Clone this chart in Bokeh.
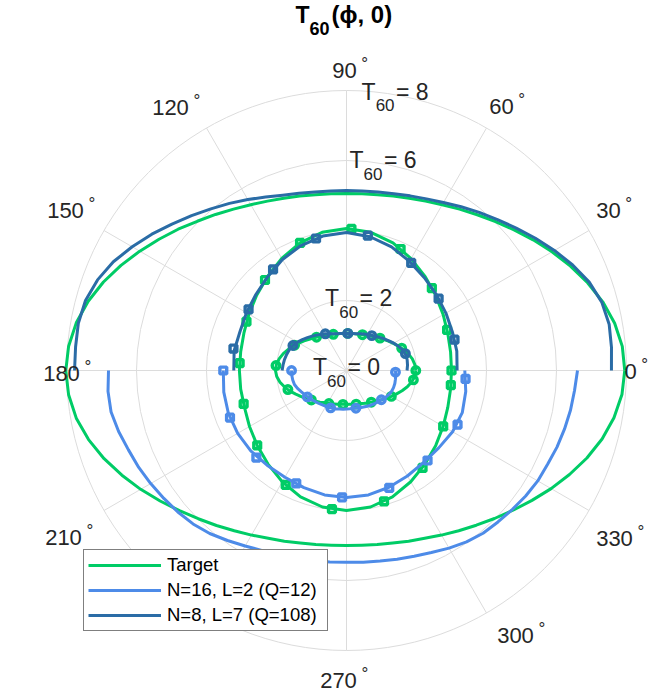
import numpy as np
from bokeh.plotting import figure
from bokeh.models import Range1d, Legend, LegendItem
from bokeh.embed import file_html
from bokeh.resources import INLINE
from bokeh.core.properties import value

# ---------------- data (T60) ----------------
phi_full5 = list(range(0, 361, 5))      # Target, 5 degree steps
phi_upper5 = list(range(0, 181, 5))     # N=8 curves: upper half
phi_lower5 = list(range(180, 361, 5))   # N=16 curves: lower half
phi_full10 = list(range(0, 361, 10))
phi_upper10 = list(range(0, 181, 10))
phi_lower10 = list(range(180, 361, 10))

target_outer = [7.95, 7.91, 7.78, 7.58, 7.33, 7.06, 6.78, 6.51, 6.25, 6.02,
                5.81, 5.63, 5.47, 5.34, 5.24, 5.16, 5.10, 5.07, 5.06,
                5.07, 5.10, 5.16, 5.24, 5.34, 5.47, 5.63, 5.82, 6.03,
                6.28, 6.54, 6.82, 7.11, 7.39, 7.64, 7.84, 7.97, 8.02,
                7.97, 7.84, 7.63, 7.37, 7.08, 6.79, 6.50, 6.23, 5.99,
                5.78, 5.59, 5.43, 5.29, 5.19, 5.10, 5.05, 5.01, 5.00,
                5.01, 5.05, 5.10, 5.19, 5.29, 5.43, 5.59, 5.77, 5.98,
                6.21, 6.47, 6.75, 7.03, 7.31, 7.56, 7.76, 7.90, 7.95]
n8_outer = [7.57, 7.60, 7.62, 7.55, 7.38, 7.13, 6.86, 6.59, 6.33, 6.10,
            5.90, 5.71, 5.54, 5.41, 5.31, 5.23, 5.18, 5.15, 5.14,
            5.15, 5.18, 5.24, 5.33, 5.47, 5.64, 5.83, 6.03, 6.26,
            6.51, 6.79, 7.07, 7.35, 7.57, 7.72, 7.78, 7.77, 7.77]
n16_outer = [6.80, 6.84, 6.83, 6.74, 6.63, 6.55, 6.46, 6.37, 6.29, 6.20,
             6.08, 5.93, 5.79, 5.68, 5.60, 5.55, 5.51, 5.49, 5.48,
             5.50, 5.53, 5.58, 5.65, 5.74, 5.86, 5.98, 6.07, 6.12,
             6.18, 6.25, 6.31, 6.34, 6.40, 6.45, 6.50, 6.54, 6.60]

target_mid = [3.00, 3.02, 3.08, 3.19, 3.33, 3.50, 3.69, 3.88, 4.01, 4.06,
              4.01, 3.88, 3.70, 3.51, 3.35, 3.22, 3.12, 3.07, 3.06, 3.07,
              3.10, 3.20, 3.33, 3.49, 3.67, 3.84, 3.96, 4.00, 3.96, 3.84,
              3.67, 3.49, 3.33, 3.19, 3.08, 3.02, 3.00]
n8_mid = [3.16, 3.20, 3.22, 3.28, 3.36, 3.46, 3.60, 3.76, 3.88, 3.94,
          3.90, 3.80, 3.66, 3.50, 3.38, 3.30, 3.24, 3.26, 3.22]
n16_mid = [3.52, 3.56, 3.59, 3.59, 3.57, 3.53, 3.52, 3.56, 3.61, 3.63,
           3.61, 3.55, 3.48, 3.43, 3.44, 3.50, 3.52, 3.46, 3.38]

target_in = [1.98, 1.96, 1.91, 1.83, 1.74, 1.64, 1.55, 1.46, 1.38, 1.31,
             1.25, 1.20, 1.16, 1.13, 1.10, 1.08, 1.07, 1.06, 1.06,
             1.06, 1.07, 1.08, 1.10, 1.13, 1.17, 1.21, 1.26, 1.32,
             1.39, 1.48, 1.57, 1.67, 1.77, 1.87, 1.95, 2.01, 2.03,
             2.00, 1.93, 1.83, 1.72, 1.60, 1.49, 1.40, 1.31, 1.24,
             1.18, 1.12, 1.08, 1.05, 1.02, 1.00, 0.98, 0.97, 0.97,
             0.97, 0.98, 1.00, 1.02, 1.04, 1.08, 1.12, 1.17, 1.23,
             1.30, 1.39, 1.48, 1.58, 1.69, 1.80, 1.89, 1.96, 1.98]
n8_in = [1.73, 1.75, 1.76, 1.75, 1.71, 1.64, 1.56, 1.48, 1.41, 1.34,
         1.28, 1.23, 1.19, 1.15, 1.12, 1.09, 1.07, 1.06, 1.06,
         1.06, 1.07, 1.09, 1.12, 1.16, 1.21, 1.26, 1.32, 1.39,
         1.46, 1.54, 1.62, 1.69, 1.74, 1.77, 1.80, 1.82, 1.84]
n16_in = [1.57, 1.57, 1.56, 1.54, 1.49, 1.43, 1.38, 1.34, 1.30, 1.26,
          1.23, 1.20, 1.18, 1.16, 1.15, 1.14, 1.12, 1.11, 1.10,
          1.10, 1.10, 1.11, 1.13, 1.15, 1.18, 1.21, 1.24, 1.27,
          1.30, 1.35, 1.39, 1.42, 1.43, 1.43, 1.42, 1.41, 1.40]

# markers (angle in degrees, T60)
target_mk_phi = [0, 22, 44, 66, 88, 110, 132, 154, 176, 198, 220, 242, 264, 286, 308, 330, 352]
target_mid_mk = [3.00, 3.10, 3.39, 3.80, 4.05, 3.88, 3.48, 3.18, 3.06, 3.09, 3.33, 3.70, 3.98, 3.89, 3.53, 3.19, 3.01]
target_in_mk = [1.98, 1.70, 1.33, 1.12, 1.06, 1.10, 1.28, 1.65, 2.02, 1.76, 1.31, 1.07, 0.975, 1.00, 1.15, 1.48, 1.93]
n8_mid_mk_phi = [16, 38, 59, 81, 103, 126, 148, 169]
n8_mid_mk = [3.21, 3.34, 3.59, 3.90, 3.87, 3.57, 3.30, 3.29]
n16_mid_mk_phi = [180, 202, 224, 246, 268, 290, 312, 334, 356]
n16_mid_mk = [3.52, 3.59, 3.58, 3.53, 3.63, 3.57, 3.46, 3.53, 3.41]
n8_in_mk_phi = [16, 54, 88, 120, 155]
n8_in_mk = [1.75, 1.23, 1.06, 1.21, 1.69]
n16_in_mk_phi = [180, 214, 247, 284, 320, 358]
n16_in_mk = [1.57, 1.35, 1.16, 1.11, 1.30, 1.40]

ring_values = [2, 4, 6, 8]
ring_labels = [0, 2, 6, 8]
spoke_angles = list(range(0, 360, 30))
angle_labels = [0, 30, 60, 90, 120, 150, 180, 210, 270, 300, 330]
legend_labels = ["Target", "N=16, L=2 (Q=12)", "N=8, L=7 (Q=108)"]

# ---------------- style / layout ----------------
GREEN = "#00CC66"
LBLUE = "#4D8BE8"
DBLUE = "#2A6CA6"
GRID = "#DCDCDC"
TXT = "#262626"
FONT = "Liberation Sans"

S = 35.0                 # px per T60 unit
CX, CY = 346.0, 370.0    # position of the pole in the picture
W, H = 656, 698

p = figure(width=W, height=H,
           x_range=Range1d(-CX / S, (W - CX) / S),
           y_range=Range1d((CY - H) / S, CY / S),
           output_backend="svg", toolbar_location=None,
           x_axis_type=None, y_axis_type=None, min_border=0)
p.outline_line_color = None
p.background_fill_color = "white"
p.border_fill_color = "white"


def pol(phi, r):
    t = np.deg2rad(np.asarray(phi, dtype=float))
    r = np.asarray(r, dtype=float)
    return r * np.cos(t), r * np.sin(t)


# grid
rmax = ring_values[-1]
p.circle(x=[0] * len(ring_values), y=[0] * len(ring_values), radius=ring_values,
         fill_color=None, line_color=GRID, line_width=1)
sx, sy = pol(spoke_angles, [rmax] * len(spoke_angles))
p.segment(x0=0, y0=0, x1=sx, y1=sy, line_color=GRID, line_width=1)

LW = 3


def curve(phi, r, color):
    x, y = pol(phi, r)
    return p.line(x, y, line_color=color, line_width=LW, line_join="round")


def marks(phi, r, color, marker):
    x, y = pol(phi, r)
    size = 6.8 if marker == "square" else 7.5
    p.scatter(x, y, marker=marker, size=size, line_color=color, line_width=3.4,
              fill_color=None)


r_t = curve(phi_full5, target_outer, GREEN)
curve(phi_full10, target_mid, GREEN)
curve(phi_full5, target_in, GREEN)
marks(target_mk_phi, target_mid_mk, GREEN, "square")
marks(target_mk_phi, target_in_mk, GREEN, "circle")

r_16 = curve(phi_lower5, n16_outer, LBLUE)
curve(phi_lower10, n16_mid, LBLUE)
curve(phi_lower5, n16_in, LBLUE)
marks(n16_mid_mk_phi, n16_mid_mk, LBLUE, "square")
marks(n16_in_mk_phi, n16_in_mk, LBLUE, "circle")

r_8 = curve(phi_upper5, n8_outer, DBLUE)
curve(phi_upper10, n8_mid, DBLUE)
curve(phi_upper5, n8_in, DBLUE)
marks(n8_mid_mk_phi, n8_mid_mk, DBLUE, "square")
marks(n8_in_mk_phi, n8_in_mk, DBLUE, "circle")

# ---------------- texts ----------------
ADV = {'T': 0.611, '=': 0.584, ' ': 0.278, '(': 0.333, ')': 0.333, ',': 0.278, '°': 0.4}


def tw(s, size):
    return sum(ADV.get(c, 0.556) for c in s) * size


def put(px, py, s, size, bold=False, color=TXT):
    # py is the wanted baseline; compensate the renderer's baseline offset
    py = py - 0.38 * size
    p.text(x=[(px - CX) / S], y=[(CY - py) / S], text=[s],
           text_font=value(FONT), text_font_size=f"{size}px",
           text_font_style="bold" if bold else "normal",
           text_color=color, text_align="left", text_baseline="alphabetic")


# angle labels: centre of the whole label (px offsets from pole, y up)
label_pos = {0: (289, -1), 30: (267, 160), 60: (160, 264), 90: (3, 300),
             120: (-171, 263), 150: (-276, 160), 180: (-280, -3),
             210: (-278, -167), 270: (-3, -310), 300: (174, -265),
             330: (273, -168)}
NS, DS = 22, 17
for a in angle_labels:
    dx, dy = label_pos[a]
    s = str(a)
    wn = tw(s, NS)
    left = CX + dx - (wn + 10) / 2
    base = CY - dy + 8
    put(left, base, s, NS)
    put(left + wn + 4.6, base - 9, "°", DS)

# ring labels (centred along the 80 degree direction)
MS, SS = 23, 17
for v in ring_labels:
    ax = CX + v * S * np.cos(np.deg2rad(80))
    ay = CY - v * S * np.sin(np.deg2rad(80))
    rest = f"= {v}"
    total = tw("T", MS) + tw("60", SS) + 1.5 + tw(rest, MS)
    left = ax - total / 2
    base = ay + 5.5
    put(left, base, "T", MS)
    put(left + tw("T", MS), base + 11.6, "60", SS)
    put(left + tw("T", MS) + tw("60", SS) + 1.5, base, rest, MS)

# title
put(295, 23.3, "T", 23, bold=True, color="black")
put(309, 35, "60", 18, bold=True, color="black")
put(331, 23.3, "(ϕ, 0)", 24, bold=True, color="black")

# legend
legend = Legend(items=[LegendItem(label=legend_labels[0], renderers=[r_t]),
                       LegendItem(label=legend_labels[1], renderers=[r_16]),
                       LegendItem(label=legend_labels[2], renderers=[r_8])],
                location=(83, 67), orientation="vertical", padding=4, spacing=3,
                margin=0, glyph_width=73, glyph_height=20, label_height=20,
                label_width=156, label_standoff=6, label_text_font=FONT,
                label_text_font_size="18.5px", label_text_color="black",
                border_line_color="black", border_line_width=1,
                background_fill_color="white", background_fill_alpha=1.0)
p.add_layout(legend)

open("out.html", "w").write(file_html(p, INLINE))
